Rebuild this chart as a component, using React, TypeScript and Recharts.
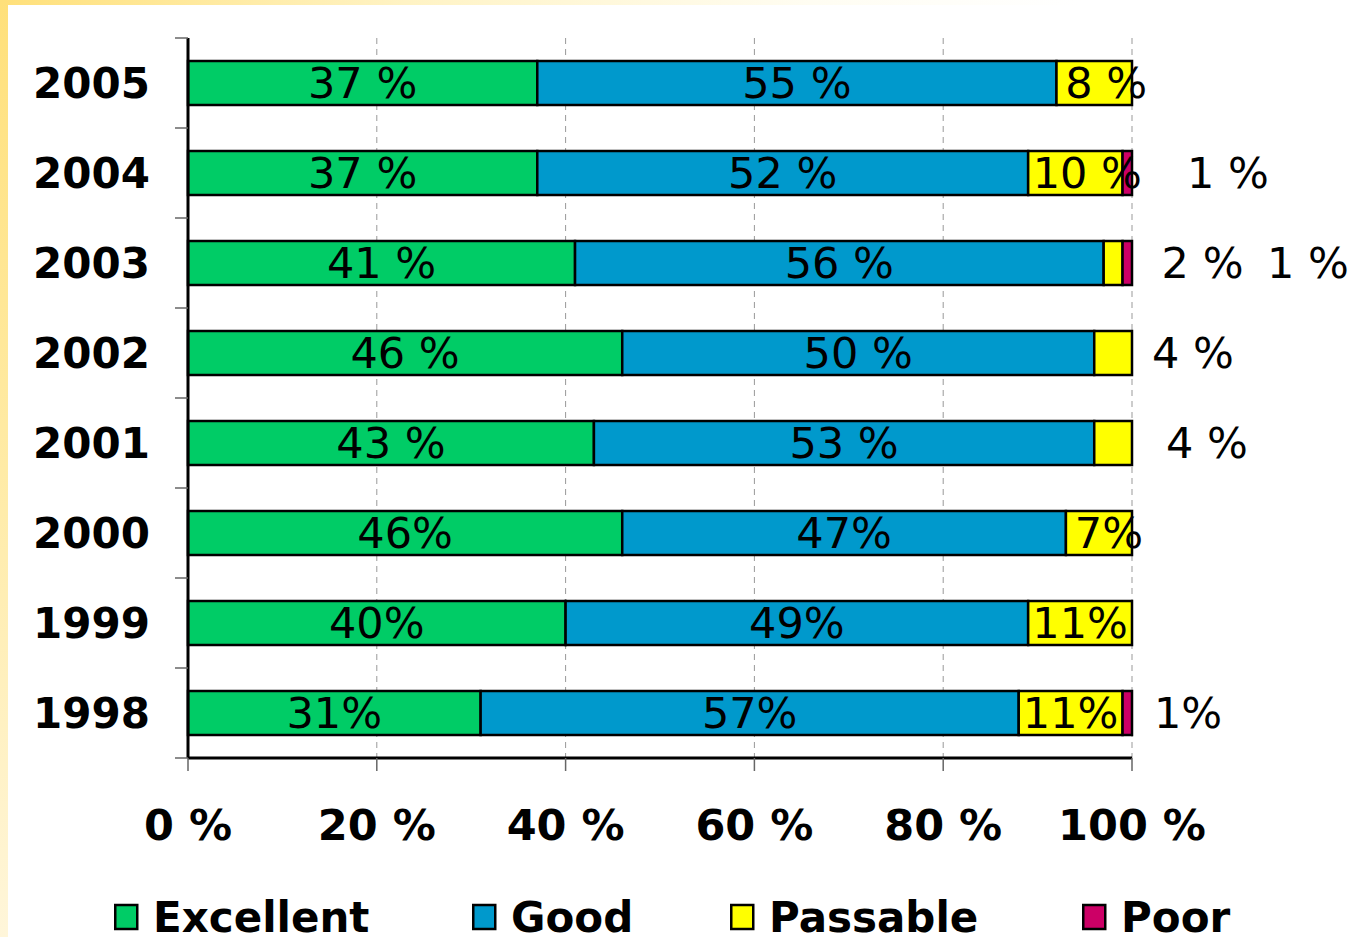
import React from "react";
import {
  BarChart,
  Bar,
  XAxis,
  YAxis,
  CartesianGrid,
  LabelList,
  Legend,
} from "recharts";

// ---------- data ----------
const years = ["2005", "2004", "2003", "2002", "2001", "2000", "1999", "1998"];
const excellent = [37, 37, 41, 46, 43, 46, 40, 31];
const good = [55, 52, 56, 50, 53, 47, 49, 57];
const passable = [8, 10, 2, 4, 4, 7, 11, 11];
const poor = [0, 1, 1, 0, 0, 0, 0, 1];

const excellentLabels = ["37 %", "37 %", "41 %", "46 %", "43 %", "46%", "40%", "31%"];
const goodLabels = ["55 %", "52 %", "56 %", "50 %", "53 %", "47%", "49%", "57%"];
const passableLabels = ["8 %", "10 %", "2 %", "4 %", "4 %", "7%", "11%", "11%"];
const poorLabels = ["", "1 %", "1 %", "", "", "", "", "1%"];

const xTicks = [0, 20, 40, 60, 80, 100];
const seriesNames = ["Excellent", "Good", "Passable", "Poor"];

// ---------- styling / layout ----------
const W = 1351;
const H = 937;
const PLOT_TOP = 38;
const PLOT_BOTTOM = 758;
const PLOT_LEFT = 188;
const PLOT_RIGHT = 1132;
const BAND = (PLOT_BOTTOM - PLOT_TOP) / years.length;
const HALF_BAND = BAND / 2;
const COLORS = ["#00CC66", "#0099CC", "#FFFF00", "#CC0066"];
const FONT = "'DejaVu Sans', Verdana, sans-serif";
const LEGEND_X = [114, 472, 730, 1082];

// outside label offsets (px right of the segment end), keyed year-series
const OUTSIDE_DX: Record<string, number> = {
  "2004-poor": 96,
  "2003-passable": 80,
  "2003-poor": 176,
  "2002-passable": 61,
  "2001-passable": 75,
  "1998-poor": 56,
};
// small nudges of inside labels of narrow segments
const INSIDE_DX: Record<string, number> = {
  "2005-passable": 12,
  "2004-passable": 12,
  "2000-passable": 10,
};

const data = years.map((y, i) => ({
  year: y,
  excellent: excellent[i],
  good: good[i],
  passable: passable[i],
  poor: poor[i],
  excellentLabel: excellentLabels[i],
  goodLabel: goodLabels[i],
  passableLabel: passableLabels[i],
  poorLabel: poorLabels[i],
}));

const makeLabel = (key: string) => (props: any) => {
  const vb = props.viewBox && props.viewBox.width !== undefined ? props.viewBox : props;
  const x = Number(vb.x);
  const y = Number(vb.y);
  const width = Number(vb.width);
  const height = Number(vb.height);
  const text = props.value;
  if (!text) return null;
  const cy = y + height / 2;
  const row = Math.max(0, Math.min(years.length - 1, Math.floor((cy - PLOT_TOP) / BAND)));
  const k = `${years[row]}-${key}`;
  const out = OUTSIDE_DX[k];
  const cx = out !== undefined ? x + width + out : x + width / 2 + (INSIDE_DX[k] || 0);
  return (
    <text
      x={cx}
      y={cy}
      dy="0.36em"
      textAnchor="middle"
      fontFamily={FONT}
      fontSize={43}
      fill="#000"
    >
      {text}
    </text>
  );
};

const YearTick = (props: any) => {
  const { x, y, payload, index } = props;
  const axisX = x + 38;
  return (
    <g>
      <line x1={axisX - 13} x2={axisX} y1={y - HALF_BAND} y2={y - HALF_BAND} stroke="#666" strokeWidth={1.5} />
      {index === years.length - 1 && (
        <line x1={axisX - 13} x2={axisX} y1={y + HALF_BAND} y2={y + HALF_BAND} stroke="#666" strokeWidth={1.5} />
      )}
      <text x={x} y={y} dy="0.36em" textAnchor="end" fontFamily={FONT} fontWeight="bold" fontSize={42} fill="#000">
        {payload.value}
      </text>
    </g>
  );
};

const LegendContent = (props: any) => {
  const payload = props.payload || [];
  return (
    <svg width={W} height={57} style={{ display: "block" }}>
      {payload.map((p: any, i: number) => (
        <g key={i}>
          <rect x={LEGEND_X[i] + 1.25} y={25} width={22} height={24} fill={p.color} stroke="#000" strokeWidth={2.5} />
          <text x={LEGEND_X[i] + 39} y={52} fontFamily={FONT} fontWeight="bold" fontSize={42} fill="#000">
            {p.value}
          </text>
        </g>
      ))}
    </svg>
  );
};

export default function App() {
  return (
    <div style={{ position: "absolute", left: 0, top: 0, width: W, height: H, background: "#fff", overflow: "hidden" }}>
      <div
        style={{
          position: "absolute",
          left: 0,
          top: 0,
          width: W,
          height: 5,
          background: "linear-gradient(to right, #FFE07A 0%, #FFF3C4 30%, #FFFDF2 60%, #ffffff 80%)",
        }}
      />
      <div
        style={{
          position: "absolute",
          left: 0,
          top: 0,
          width: 8,
          height: H,
          background: "linear-gradient(to bottom, #FFE07A 0%, #FFEBA6 50%, #FFF6DA 100%)",
        }}
      />
      <div style={{ position: "absolute", left: 0, top: 0 }}>
        <BarChart
          width={W}
          height={H}
          data={data}
          layout="vertical"
          margin={{ top: PLOT_TOP, right: W - PLOT_RIGHT, bottom: 0, left: 0 }}
        >
          <CartesianGrid horizontal={false} vertical stroke="#999" strokeDasharray="6 5" strokeWidth={1} />
          <XAxis
            type="number"
            domain={[0, 100]}
            ticks={xTicks}
            tickFormatter={(v: number) => `${v} %`}
            height={H - PLOT_BOTTOM}
            axisLine={{ stroke: "#000", strokeWidth: 3 }}
            tickLine={{ stroke: "#666", strokeWidth: 1.5 }}
            tickSize={13}
            tickMargin={38}
            tick={{ fontFamily: FONT, fontWeight: "bold", fontSize: 43, fill: "#000" }}
            interval={0}
          />
          <XAxis
            xAxisId="top"
            orientation="top"
            type="number"
            domain={[0, 100]}
            height={0}
            tick={false}
            tickLine={false}
            axisLine={{ stroke: "#000", strokeWidth: 2.5 }}
          />
          <YAxis
            type="category"
            dataKey="year"
            width={PLOT_LEFT}
            axisLine={{ stroke: "#000", strokeWidth: 3 }}
            tickLine={false}
            tickSize={0}
            tickMargin={38}
            tick={<YearTick />}
            interval={0}
          />
          <YAxis
            yAxisId="right"
            orientation="right"
            type="category"
            dataKey="year"
            width={0}
            tick={false}
            tickLine={false}
            axisLine={{ stroke: "#000", strokeWidth: 3 }}
          />
          <Legend
            layout="horizontal"
            verticalAlign="middle"
            align="center"
            wrapperStyle={{ top: 880, left: 0, width: W, height: 57 }}
            content={<LegendContent />}
          />
          <Bar dataKey="excellent" name={seriesNames[0]} stackId="a" fill={COLORS[0]} stroke="#000" strokeWidth={2.5} barSize={44} isAnimationActive={false}>
            <LabelList dataKey="excellentLabel" content={makeLabel("excellent")} />
          </Bar>
          <Bar dataKey="good" name={seriesNames[1]} stackId="a" fill={COLORS[1]} stroke="#000" strokeWidth={2.5} barSize={44} isAnimationActive={false}>
            <LabelList dataKey="goodLabel" content={makeLabel("good")} />
          </Bar>
          <Bar dataKey="passable" name={seriesNames[2]} stackId="a" fill={COLORS[2]} stroke="#000" strokeWidth={2.5} barSize={44} isAnimationActive={false}>
            <LabelList dataKey="passableLabel" content={makeLabel("passable")} />
          </Bar>
          <Bar dataKey="poor" name={seriesNames[3]} stackId="a" fill={COLORS[3]} stroke="#000" strokeWidth={2.5} barSize={44} isAnimationActive={false}>
            <LabelList dataKey="poorLabel" content={makeLabel("poor")} />
          </Bar>
        </BarChart>
      </div>
    </div>
  );
}
